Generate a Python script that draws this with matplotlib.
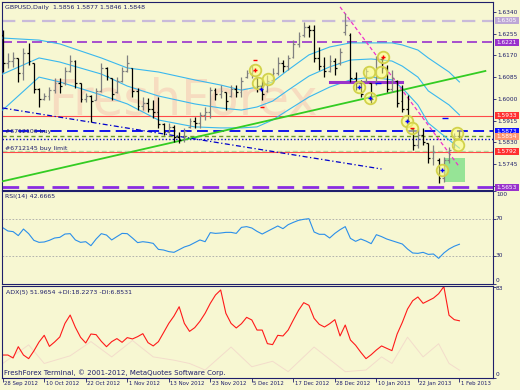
import numpy as np
import matplotlib
matplotlib.use("Agg")
import matplotlib.pyplot as plt
from matplotlib.patches import Rectangle

# ----- GBPUSD daily bars, 28 Sep 2012 .. 1 Feb 2013 -----
opens = [1.6250, 1.6140, 1.6150, 1.6160, 1.6100, 1.6180, 1.6140, 1.6040, 1.6000, 1.6010,
         1.6035, 1.6060, 1.6060, 1.6110, 1.6150, 1.6060, 1.6000, 1.6010, 1.5995, 1.6030,
         1.6120, 1.6080, 1.6025, 1.6070, 1.6110, 1.6120, 1.6030, 1.5970, 1.5985, 1.5960,
         1.5950, 1.5900, 1.5870, 1.5890, 1.5850, 1.5840, 1.5890, 1.5915, 1.5905, 1.5935,
         1.5950, 1.6035, 1.6020, 1.6027, 1.6010, 1.6040, 1.6025, 1.6085, 1.6100, 1.6080,
         1.6050, 1.6030, 1.6075, 1.6100, 1.6140, 1.6130, 1.6165, 1.6215, 1.6250, 1.6280,
         1.6270, 1.6160, 1.6130, 1.6110, 1.6150, 1.6140, 1.6260, 1.6250, 1.6080, 1.6060,
         1.6070, 1.6060, 1.6060, 1.6155, 1.6120, 1.6040, 1.6070, 1.5990, 1.5960, 1.5880,
         1.5820, 1.5860, 1.5827, 1.5770, 1.5760, 1.5690, 1.5760, 1.5810, 1.5856]
highs = [1.6269, 1.6179, 1.6183, 1.6160, 1.6199, 1.6219, 1.6140, 1.6042, 1.6023, 1.6046,
         1.6081, 1.6081, 1.6125, 1.6172, 1.6152, 1.6062, 1.6023, 1.6015, 1.6042, 1.6140,
         1.6125, 1.6081, 1.6085, 1.6125, 1.6172, 1.6121, 1.6042, 1.6007, 1.6003, 1.5995,
         1.6007, 1.5905, 1.5905, 1.5897, 1.5870, 1.5886, 1.5925, 1.5929, 1.5948, 1.5968,
         1.6046, 1.6042, 1.6054, 1.6027, 1.6054, 1.6054, 1.6085, 1.6113, 1.6132, 1.6081,
         1.6074, 1.6093, 1.6121, 1.6164, 1.6152, 1.6172, 1.6230, 1.6262, 1.6301, 1.6289,
         1.6289, 1.6203, 1.6164, 1.6172, 1.6160, 1.6199, 1.6336, 1.6258, 1.6105, 1.6074,
         1.6121, 1.6062, 1.6168, 1.6164, 1.6132, 1.6113, 1.6074, 1.6054, 1.6015, 1.5886,
         1.5886, 1.5886, 1.5827, 1.5819, 1.5768, 1.5772, 1.5811, 1.5866, 1.5877]
lows = [1.6105, 1.6121, 1.6125, 1.6066, 1.6074, 1.6132, 1.6023, 1.5968, 1.5995, 1.5995,
        1.6023, 1.6023, 1.6054, 1.6105, 1.6042, 1.5987, 1.5987, 1.5909, 1.5995, 1.6027,
        1.6074, 1.5995, 1.6023, 1.6066, 1.6105, 1.6007, 1.5956, 1.5956, 1.5948, 1.5925,
        1.5886, 1.5858, 1.5866, 1.5831, 1.5827, 1.5831, 1.5886, 1.5886, 1.5886, 1.5917,
        1.5925, 1.5995, 1.6003, 1.5956, 1.6007, 1.6007, 1.6007, 1.6081, 1.6081, 1.6027,
        1.5995, 1.6027, 1.6074, 1.6093, 1.6105, 1.6113, 1.6160, 1.6203, 1.6242, 1.6242,
        1.6144, 1.6113, 1.6085, 1.6105, 1.6093, 1.6132, 1.6250, 1.6066, 1.6034, 1.6007,
        1.6066, 1.5984, 1.6054, 1.6101, 1.6027, 1.6027, 1.5968, 1.5948, 1.5909, 1.5799,
        1.5807, 1.5819, 1.5749, 1.5741, 1.5670, 1.5674, 1.5749, 1.5807, 1.5846]
closes = [1.6140, 1.6150, 1.6160, 1.6100, 1.6180, 1.6150, 1.6040, 1.6000, 1.6010, 1.6035,
          1.6060, 1.6050, 1.6110, 1.6150, 1.6060, 1.6000, 1.6010, 1.5990, 1.6030, 1.6120,
          1.6090, 1.6020, 1.6070, 1.6110, 1.6140, 1.6030, 1.5970, 1.5985, 1.5960, 1.5950,
          1.5900, 1.5870, 1.5890, 1.5850, 1.5840, 1.5875, 1.5915, 1.5905, 1.5935, 1.5950,
          1.6035, 1.6020, 1.6030, 1.5990, 1.6040, 1.6025, 1.6070, 1.6100, 1.6110, 1.6050,
          1.6020, 1.6070, 1.6100, 1.6140, 1.6130, 1.6160, 1.6215, 1.6245, 1.6280, 1.6270,
          1.6160, 1.6130, 1.6110, 1.6150, 1.6120, 1.6185, 1.6290, 1.6080, 1.6060, 1.6020,
          1.6110, 1.6000, 1.6155, 1.6120, 1.6040, 1.6080, 1.5985, 1.5960, 1.5915, 1.5820,
          1.5860, 1.5830, 1.5770, 1.5790, 1.5690, 1.5760, 1.5800, 1.5856, 1.5848]

# Bollinger bands read at a few bars
bb_idx = [0, 7, 11, 19, 24, 30, 37, 42, 46, 49, 52, 55, 59, 63, 67, 71, 75, 77, 80, 82, 86, 88]
bb_upper = [1.6238, 1.6230, 1.6215, 1.6160, 1.6121, 1.6105, 1.6074, 1.6054, 1.6034, 1.6046, 1.6066,
            1.6113, 1.6172, 1.6203, 1.6219, 1.6219, 1.6219, 1.6211, 1.6191, 1.6160, 1.6105, 1.6066]
bb_mid = [1.6097, 1.6160, 1.6144, 1.6097, 1.6050, 1.6011, 1.5980, 1.5964, 1.5956, 1.5968, 1.5991,
          1.6034, 1.6089, 1.6125, 1.6152, 1.6156, 1.6148, 1.6128, 1.6085, 1.6031, 1.5976, 1.5937]
bb_lower = [1.5956, 1.6085, 1.6066, 1.6015, 1.5980, 1.5917, 1.5890, 1.5886, 1.5886, 1.5890, 1.5917,
            1.5956, 1.6007, 1.6046, 1.6074, 1.6085, 1.6074, 1.6042, 1.5976, 1.5905, 1.5839, 1.5807]

# RSI(14)
rsi = [60.6, 57.0, 56.3, 52.0, 59.1, 54.1, 46.9, 44.7, 45.1, 46.9,
       49.4, 50.1, 53.7, 54.1, 47.3, 44.7, 45.4, 41.1, 48.3, 54.1,
       52.6, 47.3, 50.9, 54.4, 54.1, 49.4, 44.4, 45.4, 44.7, 43.6,
       37.1, 36.4, 34.7, 33.9, 36.8, 39.7, 41.5, 44.4, 47.3, 45.4,
       55.2, 54.4, 54.8, 55.5, 55.5, 54.4, 60.9, 61.7, 60.2, 56.6,
       53.7, 56.6, 59.5, 62.4, 59.5, 63.8, 66.3, 68.5, 69.6, 70.3,
       55.9, 53.4, 53.4, 49.4, 54.4, 58.4, 61.7, 49.0, 45.8, 48.3,
       46.1, 43.3, 53.0, 50.9, 48.3, 46.5, 44.7, 42.9, 37.5, 33.2,
       32.8, 33.9, 31.7, 32.1, 27.4, 33.2, 37.5, 40.5, 42.6665]

# ADX(5)
adx = [20.7, 20.7, 18.0, 28.3, 20.7, 17.4, 24.4, 32.6, 38.7, 28.6,
       32.6, 37.2, 49.6, 57.2, 46.0, 36.9, 31.7, 39.9, 39.3, 33.2,
       28.3, 32.9, 35.7, 32.3, 36.6, 35.4, 37.5, 40.2, 32.0, 29.0,
       32.9, 41.2, 49.6, 56.3, 64.8, 49.6, 42.3, 45.7, 51.5, 58.8,
       67.9, 75.5, 80.1, 58.8, 49.6, 45.4, 49.3, 55.1, 52.7, 43.5,
       43.5, 31.1, 30.2, 38.7, 38.1, 43.5, 52.7, 61.5, 68.5, 66.1,
       54.2, 48.7, 46.3, 49.3, 53.0, 38.1, 48.1, 34.4, 29.6, 23.2,
       17.4, 21.0, 25.3, 29.0, 26.8, 24.7, 39.9, 50.5, 62.7, 70.3,
       73.7, 67.9, 70.3, 72.7, 76.7, 83.2, 57.0, 53.0, 51.9654]
di_idx = [0, 5, 8, 13, 17, 21, 25, 29, 33, 36, 39, 44, 48, 52, 55, 60, 66, 70, 73, 75, 78, 81, 84, 86, 88]
di_val = [13, 30, 13, 20, 33, 19, 34, 19, 16, 13, 7, 28, 10, 15, 5.5, 28, 5.5, 7, 19, 13, 37, 19, 31, 13, 6.9]

date_labels = ['28 Sep 2012', '10 Oct 2012', '22 Oct 2012', '1 Nov 2012', '13 Nov 2012', '23 Nov 2012',
               '5 Dec 2012', '17 Dec 2012', '28 Dec 2012', '10 Jan 2013', '22 Jan 2013', '1 Feb 2013']
price_ticks = [1.6340, 1.6255, 1.6170, 1.6085, 1.6000, 1.5915, 1.5830, 1.5745, 1.5660]

# horizontal levels: price, colour, width, dashes, right-side tag
levels = [(1.6305, '#c9bbd9', 1.6, (6, 3), True),
          (1.6221, '#9932cc', 1.2, (6, 3), True),
          (1.5933, '#ff4a4a', 0.8, None, True),
          (1.5873, '#0000ee', 1.3, (6, 3), True),
          (1.5854, '#6b9a2a', 1.0, (3, 2.2), True),
          (1.5843, '#0000cc', 1.0, (1, 1.5), False),
          (1.5796, '#b5dea0', 1.0, (3.5, 2), False),
          (1.5792, '#ff4a4a', 0.8, None, True),
          (1.5653, '#8a2be2', 2.0, (6, 3), True)]
tag_colors = {1.6305: '#bda6d6', 1.6221: '#9932cc', 1.5933: '#ff3030', 1.5873: '#1010ff',
              1.5854: '#ff9470', 1.5792: '#ff3030', 1.5653: '#9932cc'}

# order markers
circle_idx = [48.6, 49.2, 51.1, 68.7, 70.6, 70.8, 72.9, 73.3, 77.9, 78.9, 84.6, 87.6, 87.7]
circle_px = [1.6113, 1.6062, 1.6078, 1.6046, 1.6105, 1.6003, 1.6105, 1.6164, 1.5913, 1.5886,
             1.5721, 1.5866, 1.5819]
blue_plus_idx = [49.8, 68.7, 70.8, 77.9, 84.6]
blue_plus_px = [1.6038, 1.6046, 1.6003, 1.5913, 1.5721]
red_plus_idx = [48.6, 73.3]
red_plus_px = [1.6113, 1.6164]
red_dash_idx = [48.6, 50.0, 78.9]
red_dash_px = [1.6152, 1.5968, 1.5886]
blue_dash_idx = [85.2, 72.4]
blue_dash_px = [1.5925, 1.6060]

BG = '#f7f7d2'
NAVY = '#1f1f6b'
W, H = 520.0, 390.0


def px_rect(x0, y0, x1, y1):
    return [x0 / W, 1 - y1 / H, (x1 - x0) / W, (y1 - y0) / H]


plt.rcParams['font.family'] = ['DejaVu Sans']
fig = plt.figure(figsize=(5.2, 3.9), dpi=100)
fig.patch.set_facecolor(BG)

ax = fig.add_axes(px_rect(2, 2, 493, 190))
ax_rsi = fig.add_axes(px_rect(2, 191.2, 493, 283.7))
ax_adx = fig.add_axes(px_rect(2, 285.7, 493, 377.7))

XL = (-0.135, 94.47)
for a in (ax, ax_rsi, ax_adx):
    a.set_facecolor(BG)
    a.set_xlim(*XL)
    for s in a.spines.values():
        s.set_color(NAVY)
        s.set_linewidth(0.8)
    a.yaxis.tick_right()
    a.tick_params(axis='y', length=2, width=0.6, colors=NAVY, labelsize=4.2, pad=1.5)
    a.tick_params(axis='x', length=0, labelbottom=False)

# ----- main price window -----
ax.set_ylim(1.56428, 1.63792)
ax.set_yticks(price_ticks)
ax.set_yticklabels(['%.4f' % p for p in price_ticks])

ax.text(0.3686, 0.399, 'FreshForex', transform=ax.transAxes, fontsize=36, color='#f6dcc0',
        ha='center', va='baseline', zorder=0.5)

for p, c, lw, dash, tag in levels:
    ln = ax.axhline(p, color=c, lw=lw, zorder=2)
    if dash:
        ln.set_dashes(dash)
    if tag:
        ax.add_patch(Rectangle((1.0041, p - 0.00137), 0.0489, 0.00274, transform=ax.get_yaxis_transform(),
                               facecolor=tag_colors[p], edgecolor='none', clip_on=False, zorder=5))
        ax.text(1.0285, p, '%.4f' % p, transform=ax.get_yaxis_transform(), color='white',
                fontsize=4.2, ha='center', va='center', clip_on=False, zorder=6)

idx = np.arange(len(closes))
bb_col = '#3ab8ee'
ax.plot(bb_idx, bb_upper, color=bb_col, lw=0.8, zorder=3)
ax.plot(bb_idx, bb_mid, color=bb_col, lw=0.8, zorder=3)
ax.plot(bb_idx, bb_lower, color=bb_col, lw=0.8, zorder=3)

# drawn objects
ax.plot([0, 93], [1.5677, 1.6109], color='#33cc22', lw=1.3, zorder=3)
ax.plot([0, 73], [1.5964, 1.5725], color='#0000cc', lw=0.9, dashes=(4, 2, 1, 2), zorder=3)
ax.plot([65, 88], [1.6360, 1.5733], color='#ee33cc', lw=0.9, dashes=(3, 2), zorder=3)
ax.plot([63, 77], [1.6066, 1.6066], color='#9933cc', lw=2.2, zorder=3)
ax.add_patch(Rectangle((85.2, 1.5674), 3.9, 0.0094, facecolor='#96e496', edgecolor='none', zorder=2.5))

bar_cols = ['#808080' if c >= o else 'black' for o, c in zip(opens, closes)]
ax.vlines(idx, lows, highs, colors=bar_cols, lw=0.9, zorder=4)
ax.hlines(opens, idx - 0.35, idx, colors=bar_cols, lw=0.9, zorder=4)
ax.hlines(closes, idx, idx + 0.35, colors=bar_cols, lw=0.9, zorder=4)

ax.scatter(circle_idx, circle_px, s=70, facecolors=(1, 1, 0.5, 0.55), edgecolors='#d2d24a',
           linewidths=1.3, zorder=6)
ax.scatter(blue_plus_idx, blue_plus_px, marker='+', s=12, color='#0000ff', lw=1.0, zorder=7)
ax.scatter(red_plus_idx, red_plus_px, marker='+', s=12, color='#ff0000', lw=1.0, zorder=7)
ax.scatter(red_dash_idx, red_dash_px, marker='_', s=12, color='#ff0000', lw=1.0, zorder=7)
ax.scatter(blue_dash_idx, blue_dash_px, marker='_', s=14, color='#0000ff', lw=1.0, zorder=7)

ax.text(0.006, 0.972, 'GBPUSD,Daily  1.5856 1.5877 1.5846 1.5848', transform=ax.transAxes,
        fontsize=4.5, color=NAVY, ha='left', va='center')
ax.text(0.4, 1.5872, '#6712106 buy', fontsize=4.5, color=NAVY, ha='left', va='center', zorder=5)
ax.text(0.4, 1.5805, '#6712145 buy limit', fontsize=4.5, color=NAVY, ha='left', va='center', zorder=5)

# ----- RSI window -----
ax_rsi.set_ylim(0, 100)
ax_rsi.set_yticks([100, 70, 30, 0])
ax_rsi.set_yticklabels([])
for v in (70, 30):
    ax_rsi.axhline(v, color='#a8a8a8', lw=0.6, dashes=(2, 2))
ax_rsi.plot(idx, rsi, color='#2b8fea', lw=0.8)
ytr = ax_rsi.get_yaxis_transform()
ax_rsi.text(1.006, 99, '100', transform=ytr, fontsize=4.2, color=NAVY, va='top', clip_on=False)
ax_rsi.text(1.006, 70, '70', transform=ytr, fontsize=4.2, color=NAVY, va='center', clip_on=False)
ax_rsi.text(1.006, 30, '30', transform=ytr, fontsize=4.2, color=NAVY, va='center', clip_on=False)
ax_rsi.text(1.006, 1, '0', transform=ytr, fontsize=4.2, color=NAVY, va='bottom', clip_on=False)
ax_rsi.text(0.006, 0.94, 'RSI(14) 42.6665', transform=ax_rsi.transAxes, fontsize=4.5, color=NAVY,
            ha='left', va='center')

# ----- ADX window -----
ax_adx.set_ylim(0, 84)
ax_adx.set_yticks([83, 0])
ax_adx.set_yticklabels([])
ax_adx.plot(di_idx, di_val, color='#f3dccb', lw=0.7)
ax_adx.plot(idx, adx, color='#ff1a1a', lw=0.8)
ytr = ax_adx.get_yaxis_transform()
ax_adx.text(1.006, 83.5, '83', transform=ytr, fontsize=4.2, color=NAVY, va='top', clip_on=False)
ax_adx.text(1.006, 1, '0', transform=ytr, fontsize=4.2, color=NAVY, va='bottom', clip_on=False)
ax_adx.text(0.008, 0.93, 'ADX(5) 51.9654 +DI:18.2273 -DI:6.8531', transform=ax_adx.transAxes,
            fontsize=4.5, color=NAVY, ha='left', va='center')
ax_adx.text(0.004, 0.05, 'FreshForex Terminal, \u00a9 2001-2012, MetaQuotes Software Corp.',
            transform=ax_adx.transAxes, fontsize=5, color=NAVY, ha='left', va='center')

tick_pos = [8 * k for k in range(len(date_labels))]
ax_adx.set_xticks(tick_pos)
ax_adx.tick_params(axis='x', length=3, width=0.6, colors=NAVY, direction='out')
xtr = ax_adx.get_xaxis_transform()
for p, lab in zip(tick_pos, date_labels):
    ax_adx.text(p + 0.3, -0.058, lab, transform=xtr, fontsize=3.9, color=NAVY,
                ha='left', va='center', clip_on=False)

fig.savefig('out.png', dpi=100, facecolor=BG)
